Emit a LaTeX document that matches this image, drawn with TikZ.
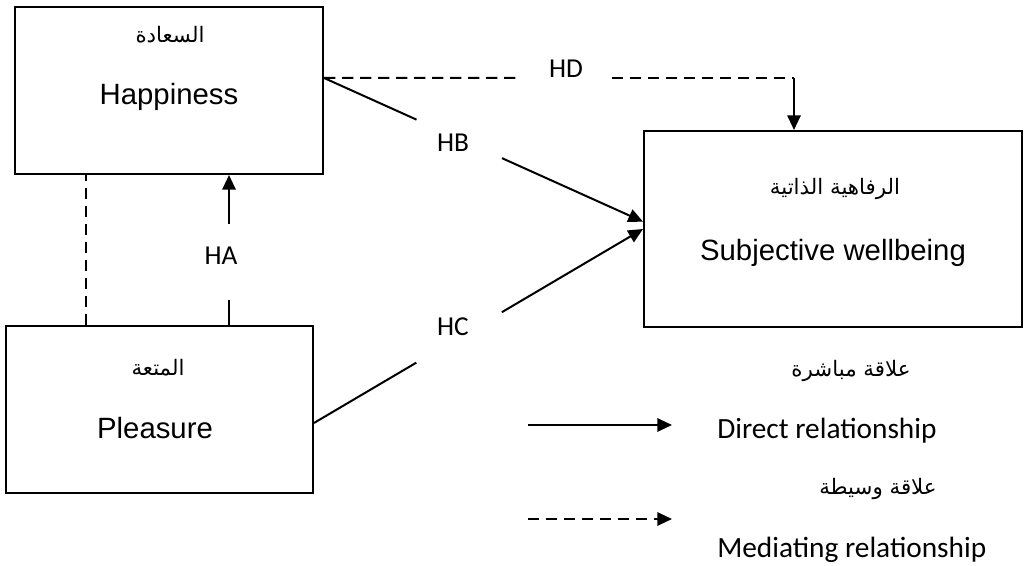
\documentclass[tikz,border=0pt]{standalone}
\usepackage{fontspec}
\setmainfont{Liberation Sans}
\newfontfamily\arabicfont[Script=Arabic]{DejaVu Sans}
\newfontfamily\calfont{Carlito}
\TeXXeTstate=1
\usetikzlibrary{arrows.meta,calc}
\begin{document}
\begin{tikzpicture}[x=0.75pt,y=-0.75pt,
  box/.style={draw, line width=1.5pt, inner sep=0pt},
  entext/.style={inner sep=0pt, font=\fontsize{22}{26}\selectfont},
  artext/.style={inner sep=0pt, font=\arabicfont\fontsize{16}{18}\selectfont},
  lbl/.style={inner sep=0pt, font=\calfont\fontsize{20.5}{24}\selectfont},
  legtext/.style={inner sep=0pt, anchor=west, font=\calfont\fontsize{22}{26}\selectfont},
  conn/.style={line width=1.5pt},
  dashconn/.style={line width=1.5pt, dash pattern=on 8.5pt off 5pt},
  tip/.style={-{Triangle[length=11pt,width=10pt]}}
]
\useasboundingbox (0,0) rectangle (1024,566);
% boxes
\node[box, minimum width=231pt, minimum height=125.25pt] (hap) at (169,90.5) {};
\node[box, minimum width=230.25pt, minimum height=125.25pt] (ple) at (159.5,409.5) {};
\node[box, minimum width=283.5pt, minimum height=147pt] (sw) at (833,229) {};
% box texts
\node[artext] (hapar) at (170,35) {\beginR السعادة\endR};
\node[entext] (hapen) at (169,97) {Happiness};
\node[artext] (plear) at (158,368) {\beginR المتعة\endR};
\node[entext] (pleen) at (155,428) {Pleasure};
\node[artext] (swar) at (835,189) {\beginR الرفاهية الذاتية\endR};
\node[entext] (swen) at (833,253) {Subjective wellbeing};
% labels
\node[lbl] (hb) at (453,143) {HB};
\node[lbl] (hc) at (453,327) {HC};
\node[lbl] (ha) at (221,256) {HA};
\node[lbl] (hd) at (566,69) {HD};
% helper coordinates
\coordinate (haX) at (229,0);
\coordinate (mdX) at (86,0);
\coordinate (hdX) at (794,0);
\coordinate (haGapLo) at (229,300);
\coordinate (haGapHi) at (229,224);
\coordinate (hdGapL) at (520,78);
\coordinate (hdGapR) at (612,78);
\coordinate (hdCorner) at (794,78);
\coordinate (hapE) at ([yshift=9.4pt]hap.east);
\coordinate (pleE) at ([yshift=-10.1pt]ple.east);
\coordinate (swHB) at ([yshift=5.5pt]sw.west);
\coordinate (swHC) at (sw.west);
\coordinate (hb1) at ($(hapE)!0.29!(swHB)$);
\coordinate (hb2) at ($(hapE)!0.558!(swHB)$);
\coordinate (hc1) at ($(pleE)!0.311!(swHC)$);
\coordinate (hc2) at ($(pleE)!0.571!(swHC)$);
% HB
\draw[conn] (hapE) -- (hb1);
\draw[conn,tip] (hb2) -- (swHB);
% HC
\draw[conn] (pleE) -- (hc1);
\draw[conn,tip] (hc2) -- (swHC);
% HA
\draw[conn] (haX |- ple.north) -- (haGapLo);
\draw[conn,tip] (haGapHi) -- (haX |- hap.south);
% mediating vertical
\draw[dashconn] (mdX |- ple.north) -- (mdX |- hap.south);
% HD
\draw[dashconn] (hapE) -- (hdGapL);
\draw[dashconn] (hdGapR) -- (hdCorner);
\draw[conn,tip] (hdCorner) -- (hdX |- sw.north);
% legend
\coordinate (l1a) at (528,425);
\coordinate (l1b) at (672,425);
\coordinate (l2a) at (528,519);
\coordinate (l2b) at (672,519);
\draw[conn,tip] (l1a) -- (l1b);
\draw[dashconn,tip] (l2a) -- (l2b);
\node[artext] (leg1ar) at (851,371) {\beginR علاقة مباشرة\endR};
\node[legtext] (leg1en) at (717,431) {Direct relationship};
\node[artext] (leg2ar) at (878,489) {\beginR علاقة وسيطة\endR};
\node[legtext] (leg2en) at (717,550) {Mediating relationship};
\end{tikzpicture}
\end{document}
